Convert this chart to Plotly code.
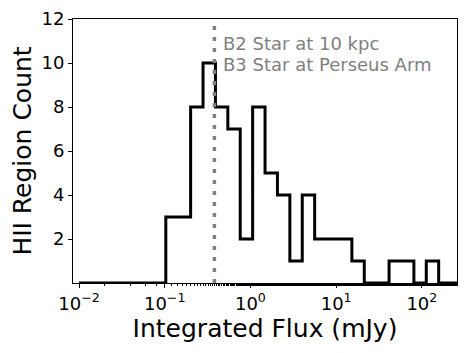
import plotly.graph_objects as go

# log-spaced histogram bin edges (mJy) and counts per bin
bin_edges = [0.0100, 0.01395, 0.01947, 0.02716, 0.03790, 0.05290, 0.07381,
             0.1030, 0.1437, 0.2006, 0.2799, 0.3906, 0.5450, 0.7604,
             1.061, 1.481, 2.066, 2.884, 4.023, 5.615, 7.834, 10.93,
             15.26, 21.29, 29.71, 41.45, 57.84, 80.71, 112.6, 157.1,
             219.3, 306.0]
counts = [0, 0, 0, 0, 0, 0, 0, 3, 3, 8, 10, 8, 7, 2, 8, 5, 4, 1, 4,
          2, 2, 2, 1, 0, 0, 1, 1, 0, 1, 0, 0]

x_ticks = [0.01, 0.1, 1, 10, 100]
x_tick_text = ["10<sup>\u22122</sup>", "10<sup>\u22121</sup>", "10<sup>0</sup>",
               "10<sup>1</sup>", "10<sup>2</sup>"]
y_ticks = [2, 4, 6, 8, 10, 12]

star_flux = 0.38
star_labels = ["B2 Star at 10 kpc", "B3 Star at Perseus Arm"]

FONT = "DejaVu Sans, sans-serif"
GREY = "#808080"

fig = go.Figure()
fig.add_trace(go.Scatter(
    x=bin_edges, y=counts + [counts[-1]],
    mode="lines", line=dict(color="black", width=3, shape="hv"),
    hoverinfo="skip",
))
fig.add_trace(go.Scatter(
    x=[star_flux, star_flux], y=[0, 12],
    mode="lines", line=dict(color=GREY, width=3.5, dash="4px,7px"),
    hoverinfo="skip",
))
# one annotation per label line so the line spacing matches
for label, ypos in zip(star_labels, [0.906, 0.826]):
    fig.add_annotation(
        text=label, xref="paper", yref="paper", x=0.385, y=ypos,
        xanchor="left", yanchor="middle", showarrow=False,
        font=dict(family=FONT, size=18, color=GREY),
    )

# the page body adds an 8px offset, so the figure is 8px smaller each way
fig.update_layout(
    width=462, height=345,
    margin=dict(l=65, r=13, t=11, b=70),
    paper_bgcolor="white", plot_bgcolor="white",
    showlegend=False,
    font=dict(family=FONT, color="black"),
)
fig.update_xaxes(
    type="log", range=[-2.07, 2.41], automargin=False,
    tickvals=x_ticks, ticktext=x_tick_text,
    ticks="outside", ticklen=4, tickcolor="black",
    minor=dict(ticks="outside", ticklen=2, tickcolor="black", showgrid=False),
    showgrid=False, zeroline=False,
    showline=True, linecolor="black", linewidth=1, mirror=True,
    tickfont=dict(size=18),
    title=dict(text="Integrated Flux (mJy)", font=dict(size=25), standoff=2),
)
fig.update_yaxes(
    range=[0, 12], tickvals=y_ticks, automargin=False,
    ticks="outside", ticklen=4, tickcolor="black",
    showgrid=False, zeroline=False,
    showline=True, linecolor="black", linewidth=1, mirror=True,
    tickfont=dict(size=18),
    title=dict(text="HII Region Count", font=dict(size=25), standoff=4),
)

fig.write_html("out.html")
